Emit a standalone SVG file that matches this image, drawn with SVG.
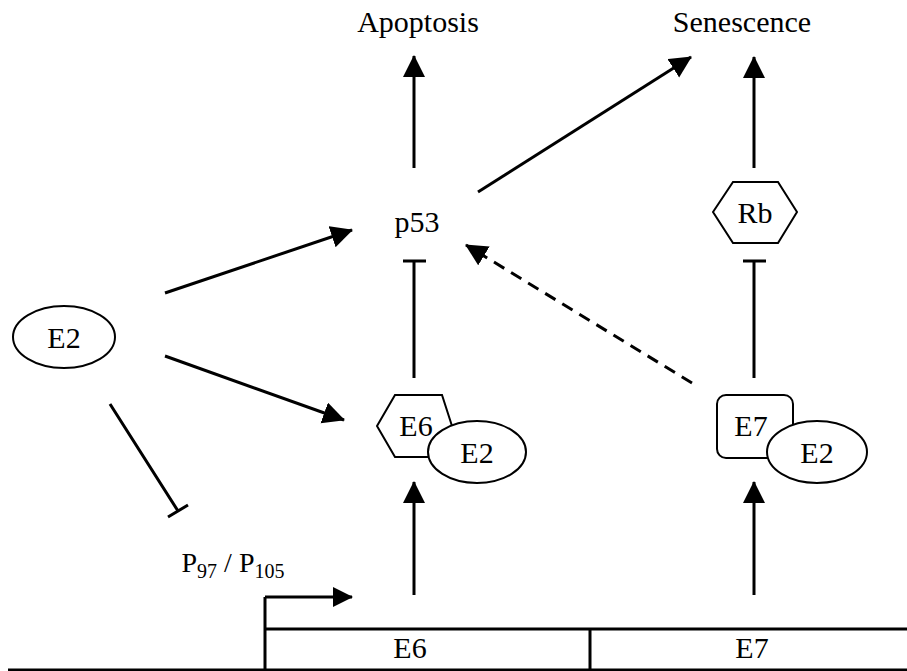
<svg xmlns="http://www.w3.org/2000/svg" width="907" height="671" viewBox="0 0 907 671">
<defs>
<marker id="ah" markerUnits="userSpaceOnUse" markerWidth="24" markerHeight="24" refX="21" refY="11" orient="auto">
<path d="M0,0 L22,11 L0,22 z" fill="#000"/>
</marker>
<marker id="ahs" markerUnits="userSpaceOnUse" markerWidth="22" markerHeight="22" refX="19" refY="10" orient="auto">
<path d="M0,0 L20,10 L0,20 z" fill="#000"/>
</marker>
<style>
text{font-family:"Liberation Serif","Times New Roman",serif;fill:#000;text-anchor:middle}
.t{font-size:30px}
.n{fill:#fff;stroke:#000;stroke-width:2}
.c{fill:none;stroke:#000;stroke-width:3}
.a{marker-end:url(#ah)}
</style>
</defs>
<rect width="907" height="671" fill="#fff"/>

<g id="labels">
<text class="t" x="418" y="32">Apoptosis</text>
<text class="t" x="742" y="32">Senescence</text>
</g>

<g id="p53"><text class="t" x="417" y="232">p53</text></g>

<g id="rb">
<polygon class="n" points="713,212 733,182 778,182 797,212 778,243 733,243"/>
<text class="t" x="755" y="223">Rb</text>
</g>

<g id="e2">
<ellipse class="n" cx="64" cy="337" rx="51" ry="31"/>
<text class="t" x="64" y="348">E2</text>
</g>

<g id="e6e2">
<polygon class="n" points="377,426 395,395 442,395 452,426 442,457 395,457"/>
<text class="t" x="416" y="436">E6</text>
<ellipse class="n" cx="477" cy="452" rx="49" ry="31"/>
<text class="t" x="477" y="463">E2</text>
</g>

<g id="e7e2">
<rect class="n" x="717" y="395" width="76" height="63" rx="9"/>
<text class="t" x="751" y="436">E7</text>
<ellipse class="n" cx="817" cy="452" rx="50" ry="31"/>
<text class="t" x="817" y="463">E2</text>
</g>

<g id="promoter">
<text x="233" y="572" style="font-size:28px">P<tspan dy="6" style="font-size:20px">97</tspan><tspan dy="-6"> / P</tspan><tspan dy="6" style="font-size:20px">105</tspan></text>
</g>

<g id="gene">
<path class="c" d="M8,670 H907 M265,629 H907 M590,629 V671 M265,671 V597"/>
<text class="t" x="410" y="658">E6</text>
<text class="t" x="752" y="658">E7</text>
</g>

<g id="connectors">
<path class="c" d="M265,597 H352" marker-end="url(#ahs)"/>
<path class="c a" d="M414,168 V56"/>
<path class="c a" d="M754,168 V57"/>
<path class="c a" d="M478,192 L691,57"/>
<path class="c a" d="M165,293 L352,230"/>
<path class="c a" d="M165,356 L344,420"/>
<path class="c" d="M110,404 L178,511 M168,517 L188,505"/>
<path class="c" d="M414,378 V261 M403,261 H426"/>
<path class="c" d="M754,378 V261 M743,261 H766"/>
<path class="c a" d="M692,383 L466,245" stroke-dasharray="12,8"/>
<path class="c a" d="M414,595 V482"/>
<path class="c a" d="M754,595 V482"/>
</g>
</svg>
